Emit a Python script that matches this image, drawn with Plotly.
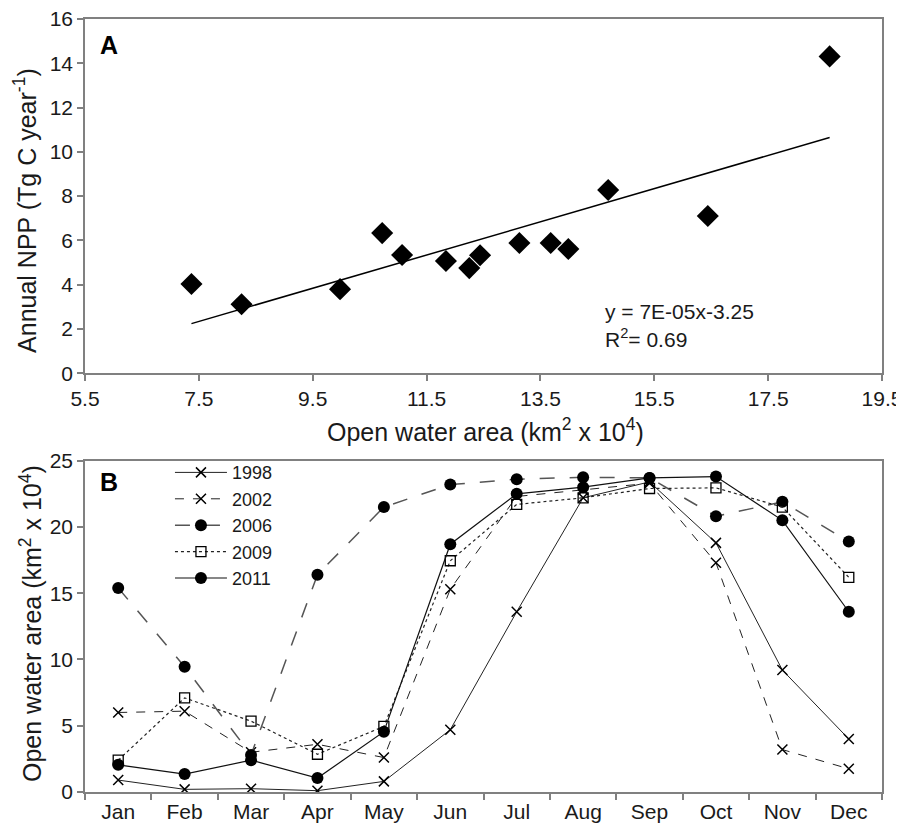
import numpy as np
import plotly.graph_objects as go

# ---- Panel A data ----
area_A = [7.37, 8.25, 9.98, 10.72, 11.07, 11.84, 12.25, 12.44, 13.13, 13.68, 13.99, 14.69, 16.44, 18.58]
npp_A = [4.03, 3.12, 3.80, 6.33, 5.34, 5.07, 4.75, 5.33, 5.88, 5.88, 5.61, 8.28, 7.10, 14.31]
xticks_A = [5.5, 7.5, 9.5, 11.5, 13.5, 15.5, 17.5, 19.5]

# ---- Panel B data ----
months = ["Jan", "Feb", "Mar", "Apr", "May", "Jun", "Jul", "Aug", "Sep", "Oct", "Nov", "Dec"]
y1998 = [0.9, 0.2, 0.25, 0.1, 0.8, 4.7, 13.6, 22.2, 23.4, 18.8, 9.2, 4.0]
y2002 = [6.0, 6.1, 3.0, 3.6, 2.6, 15.3, 22.3, 22.8, 23.3, 17.3, 3.2, 1.75]
y2006 = [15.4, 9.45, 2.8, 16.4, 21.5, 23.2, 23.6, 23.75, 23.7, 20.8, 21.9, 18.9]
y2009 = [2.4, 7.1, 5.35, 2.85, 4.95, 17.45, 21.7, 22.2, 22.9, 22.95, 21.5, 16.2]
y2011 = [2.05, 1.35, 2.4, 1.05, 4.55, 18.7, 22.5, 23.0, 23.7, 23.8, 20.5, 13.6]

FONT = "Liberation Sans, Arial, sans-serif"
AX = "#808080"
TXT = "#1a1a1a"

fig = go.Figure()

# Panel A
fig.add_trace(go.Scatter(x=area_A, y=npp_A, mode="markers", showlegend=False,
                         marker=dict(symbol="diamond", size=17, color="black"),
                         xaxis="x", yaxis="y"))
slope, intercept = np.polyfit(area_A, npp_A, 1)
xf = [min(area_A), max(area_A)]
yf = [slope * v + intercept for v in xf]
fig.add_trace(go.Scatter(x=xf, y=yf, mode="lines", showlegend=False,
                         line=dict(color="black", width=1.5), xaxis="x", yaxis="y"))

# Panel B
xmk = dict(symbol="x-thin", size=10, line=dict(width=1.5, color="black"), color="black")
series = [
    ("1998", y1998, dict(color="#222", width=1, dash="solid"), xmk),
    ("2002", y2002, dict(color="#222", width=1, dash="dash"), xmk),
    ("2006", y2006, dict(color="#555", width=1.5, dash="longdash"), dict(symbol="circle", size=12, color="black")),
    ("2009", y2009, dict(color="#222", width=1.2, dash="dot"), dict(symbol="square-open", size=10, line=dict(width=1.3, color="black"), color="black")),
    ("2011", y2011, dict(color="#111", width=1.2, dash="solid"), dict(symbol="circle", size=12, color="black")),
]
for name, vals, ln, mk in series:
    fig.add_trace(go.Scatter(x=months, y=vals, mode="lines+markers", name=name,
                             line=ln, marker=mk, xaxis="x2", yaxis="y2"))

axis_common = dict(showline=True, linecolor=AX, linewidth=1.5, mirror=True,
                   ticks="outside", tickcolor=AX, ticklen=6, tickwidth=1.5,
                   showgrid=False, zeroline=False, automargin=False,
                   ticklabeloverflow="allow",
                   tickfont=dict(family=FONT, size=21, color=TXT))

TITLE = dict(family=FONT, size=25, color=TXT)

# page has an 8px body margin, so the figure is 8px smaller than the window
fig.update_layout(
    width=896, height=818,
    margin=dict(l=77, r=22, t=11, b=34),
    plot_bgcolor="white", paper_bgcolor="white",
    font=dict(family=FONT, size=19, color=TXT),
    xaxis=dict(domain=[0, 1], anchor="y", range=[5.5, 19.5], tickvals=xticks_A,
               ticktext=[f"{v:.1f}" for v in xticks_A], **axis_common),
    yaxis=dict(domain=[0.5417, 1], anchor="x", range=[0, 16], dtick=2, **axis_common),
    xaxis2=dict(domain=[0, 1], anchor="y2", type="category", range=[-0.5, 11.5],
                tickson="boundaries", **axis_common),
    yaxis2=dict(domain=[0, 0.4286], anchor="x2", range=[0, 25], dtick=5, **axis_common),
    legend=dict(x=0.1066, y=0.437, xanchor="left", yanchor="top",
                bgcolor="rgba(0,0,0,0)", itemwidth=52,
                font=dict(family=FONT, size=18, color=TXT), tracegroupgap=0),
    annotations=[
        dict(text="<b>A</b>", x=0.0163, y=0.966, xref="paper", yref="paper",
             xanchor="left", yanchor="middle", showarrow=False,
             font=dict(family=FONT, size=25, color="black")),
        dict(text="<b>B</b>", x=0.0163, y=0.401, xref="paper", yref="paper",
             xanchor="left", yanchor="middle", showarrow=False,
             font=dict(family=FONT, size=25, color="black")),
        dict(text="Annual NPP (Tg C year<sup>-1</sup>)", x=-0.0753, y=0.753,
             xref="paper", yref="paper", xanchor="center", yanchor="middle",
             textangle=-90, showarrow=False, font=TITLE),
        dict(text="Open water area (km<sup>2</sup> x 10<sup>4</sup>)", x=-0.0678, y=0.2186,
             xref="paper", yref="paper", xanchor="center", yanchor="middle",
             textangle=-90, showarrow=False, font=TITLE),
        dict(text="Open water area (km<sup>2</sup> x 10<sup>4</sup>)", x=0.503, y=0.468,
             xref="paper", yref="paper", xanchor="center", yanchor="middle",
             showarrow=False, font=TITLE),
        dict(text="y = 7E-05x-3.25", x=14.6, y=2.77, xref="x", yref="y",
             xanchor="left", yanchor="middle", showarrow=False,
             font=dict(family=FONT, size=21, color=TXT)),
        dict(text="R<sup>2</sup>= 0.69", x=14.6, y=1.58, xref="x", yref="y",
             xanchor="left", yanchor="middle", showarrow=False,
             font=dict(family=FONT, size=21, color=TXT)),
    ],
)

fig.write_html("out.html")
